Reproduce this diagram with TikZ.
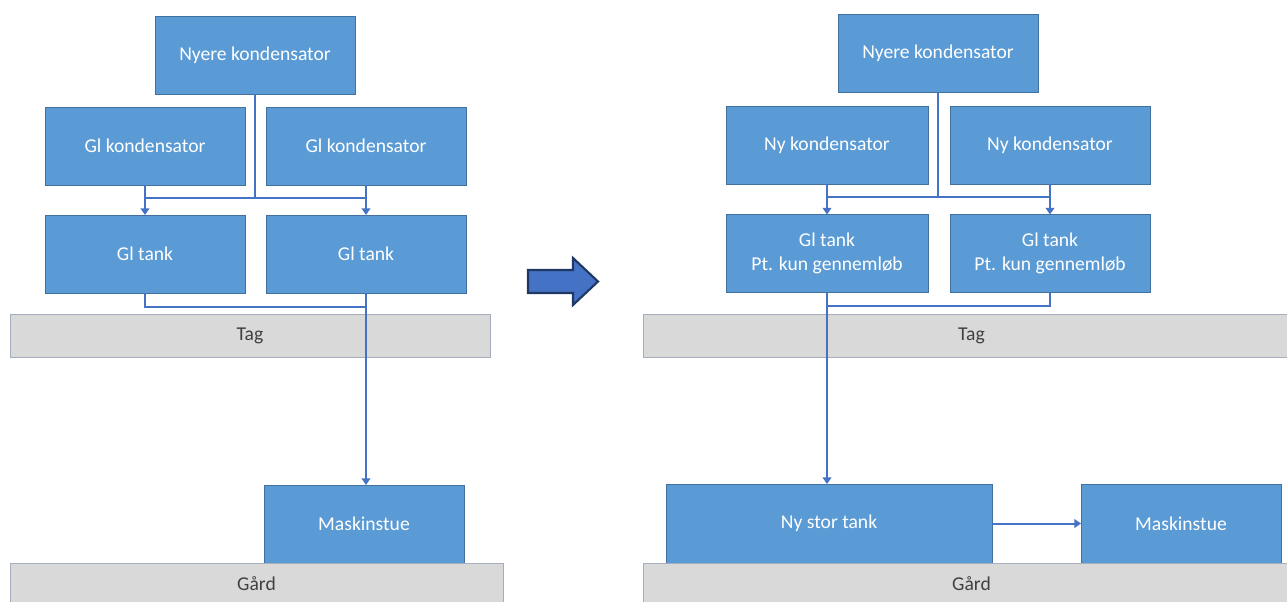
\documentclass[tikz,border=0pt]{standalone}
\usepackage{fontspec}
\setmainfont{Carlito}
\usetikzlibrary{arrows.meta}
\definecolor{boxblue}{HTML}{5B9BD5}
\definecolor{boxedge}{HTML}{41719C}
\definecolor{linkblue}{HTML}{4472C4}
\definecolor{bargray}{HTML}{D9D9D9}
\definecolor{baredge}{HTML}{A5AEBE}
\definecolor{bigarrowedge}{HTML}{1F3864}
\definecolor{bartext}{HTML}{404040}
\tikzset{
  bluebox/.style={draw=boxedge, line width=0.75pt, fill=boxblue, text=white, inner sep=0pt, outer sep=0pt,
    minimum width=150pt, minimum height=58.5pt, align=center, font=\fontsize{14.7}{18.5}\selectfont},
  graybar/.style={draw=baredge, line width=0.75pt, fill=bargray, text=bartext, inner sep=0pt, outer sep=0pt,
    align=center, font=\fontsize{14.7}{18.5}\selectfont},
  link/.style={draw=linkblue, line width=1.5pt},
  linkarrow/.style={link, -{Triangle[width=6.5pt,length=5pt]}},
}
\begin{document}
\begin{tikzpicture}[x=0.75pt,y=-0.75pt]
\useasboundingbox (0,0) rectangle (1287,601);
\clip (0,0) rectangle (1287,601);
% ---------- left ----------
\node[bluebox] (nk1) at (255,55) {Nyere kondensator};
\node[bluebox] (gk1) at (145,146) {Gl kondensator};
\node[bluebox] (gk2) at (366,146) {Gl kondensator};
\node[bluebox] (gt1) at (145,254) {Gl tank};
\node[bluebox] (gt2) at (366,254) {Gl tank};
\node[graybar, minimum width=360pt, minimum height=32.25pt] (tag1) at (250,335.5) {Tag};
\node[bluebox] (ms1) at (364,524) {Maskinstue};
\node[graybar, minimum width=369.75pt, minimum height=31.5pt] (gard1) at (256.5,584) {Gård};
\coordinate (j1) at (255,198);
\coordinate (j2) at (145,307);
\draw[link] (nk1.south) -- (j1);
\draw[link] (gk1.south |- j1) -- (gk2.south |- j1);
\draw[linkarrow] (gk1.south) -- (gt1.north);
\draw[linkarrow] (gk2.south) -- (gt2.north);
\draw[link] (gt1.south) -- (j2) -- (gt2.south |- j2);
\draw[linkarrow] (gt2.south) -- (gt2.south |- ms1.north);
% ---------- big arrow ----------
\draw[draw=bigarrowedge, line width=1.6pt, fill=linkblue, line join=miter]
  (528,270) -- (573,270) -- (573,258) -- (598,281.5) -- (573,305) -- (573,293) -- (528,293) -- cycle;
% ---------- right ----------
\node[bluebox] (nk2) at (938,53.5) {Nyere kondensator};
\node[bluebox, minimum width=151.5pt] (ny1) at (827,145) {Ny kondensator};
\node[bluebox] (ny2) at (1050,145) {Ny kondensator};
\node[bluebox, minimum width=151.5pt] (gt3) at (827,253.5) {Gl tank\\Pt. kun gennemløb};
\node[bluebox] (gt4) at (1050,253.5) {Gl tank\\Pt. kun gennemløb};
\node[graybar, minimum width=492.75pt, minimum height=32.25pt] (tag2) at (971.5,335.5) {Tag};
\node[bluebox, minimum width=244.5pt, minimum height=59.25pt] (nst) at (829,523.5) {Ny stor tank};
\node[bluebox, minimum height=59.25pt] (ms2) at (1181,523.5) {Maskinstue};
\node[graybar, minimum width=492.75pt, minimum height=31.5pt] (gard2) at (971.5,584) {Gård};
\coordinate (j3) at (938,197);
\coordinate (j4) at (1050,306);
\draw[link] (nk2.south) -- (j3);
\draw[link] (ny1.south |- j3) -- (ny2.south |- j3);
\draw[linkarrow] (ny1.south) -- (gt3.north);
\draw[linkarrow] (ny2.south) -- (gt4.north);
\draw[link] (gt4.south) -- (j4) -- (gt3.south |- j4);
\draw[linkarrow] (gt3.south) -- (gt3.south |- nst.north);
\draw[linkarrow] (nst.east) -- (ms2.west);
\end{tikzpicture}
\end{document}
